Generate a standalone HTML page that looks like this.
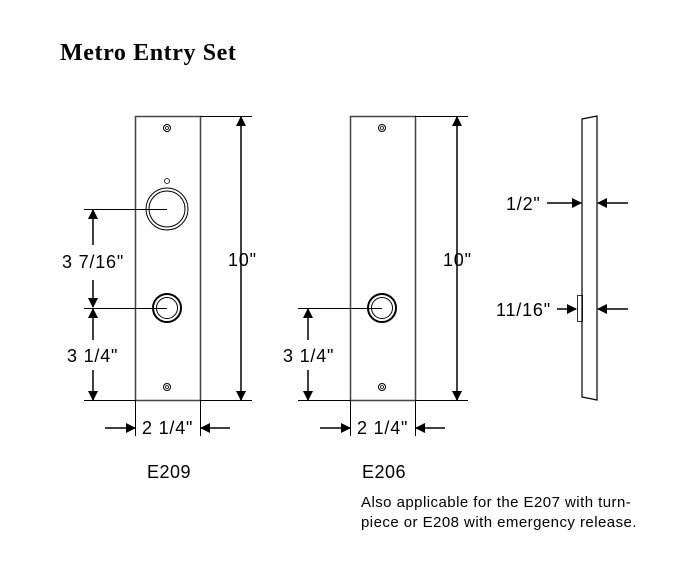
<!DOCTYPE html>
<html><head><style>
body{margin:0;width:687px;height:567px;background:#fff;overflow:hidden}
svg{display:block}
</style></head><body>
<svg width="687" height="567" viewBox="0 0 687 567" xmlns="http://www.w3.org/2000/svg">
<defs>
<marker id="a" markerWidth="10" markerHeight="10" refX="9" refY="5" orient="auto" markerUnits="userSpaceOnUse"><path d="M0,0 L10,5 L0,10 z" fill="#000"/></marker>
</defs>
<text x="60" y="60" font-family="Liberation Serif, serif" font-size="24" font-weight="bold" letter-spacing="0.6" fill="#000">Metro Entry Set</text>
<g fill="none" stroke="#000">
<!-- E209 -->
<rect x="135.5" y="116.5" width="65" height="284" stroke-width="1.5" stroke="#444"/>
<circle cx="167" cy="128" r="3.5" stroke-width="1"/><circle cx="167" cy="128" r="1.5" stroke-width="0.8"/>
<circle cx="167" cy="387" r="3.5" stroke-width="1"/><circle cx="167" cy="387" r="1.5" stroke-width="0.8"/>
<circle cx="167" cy="181" r="2.5" stroke-width="0.8"/>
<circle cx="167" cy="209" r="21" stroke-width="1"/><circle cx="167" cy="209" r="18" stroke-width="1"/>
<circle cx="167" cy="308" r="14" stroke-width="2"/><circle cx="167" cy="308" r="10.5" stroke-width="1"/>
<g stroke-width="1">
<line x1="200" y1="116.5" x2="252" y2="116.5"/><line x1="200" y1="400.5" x2="252" y2="400.5"/>
<line x1="84" y1="209.5" x2="167" y2="209.5"/><line x1="84" y1="308.5" x2="167" y2="308.5"/>
<line x1="84" y1="400.5" x2="135" y2="400.5"/>
<line x1="135.5" y1="400" x2="135.5" y2="436"/><line x1="200.5" y1="400" x2="200.5" y2="436"/>
</g>
<g stroke-width="1.5" marker-end="url(#a)">
<line x1="241" y1="258" x2="241" y2="117"/><line x1="241" y1="258" x2="241" y2="400"/>
<line x1="93" y1="245" x2="93" y2="210"/><line x1="93" y1="280" x2="93" y2="307"/>
<line x1="93" y1="340" x2="93" y2="309"/><line x1="93" y1="370" x2="93" y2="400"/>
<line x1="105" y1="428" x2="135" y2="428"/><line x1="230" y1="428" x2="201" y2="428"/>
</g>
<!-- E206 -->
<rect x="350.5" y="116.5" width="65" height="284" stroke-width="1.5" stroke="#444"/>
<circle cx="382" cy="128" r="3.5" stroke-width="1"/><circle cx="382" cy="128" r="1.5" stroke-width="0.8"/>
<circle cx="382" cy="387" r="3.5" stroke-width="1"/><circle cx="382" cy="387" r="1.5" stroke-width="0.8"/>
<circle cx="382" cy="308" r="14" stroke-width="2"/><circle cx="382" cy="308" r="10.5" stroke-width="1"/>
<g stroke-width="1">
<line x1="415" y1="116.5" x2="468" y2="116.5"/><line x1="415" y1="400.5" x2="468" y2="400.5"/>
<line x1="298" y1="308.5" x2="382" y2="308.5"/><line x1="298" y1="400.5" x2="350" y2="400.5"/>
<line x1="350.5" y1="400" x2="350.5" y2="436"/><line x1="415.5" y1="400" x2="415.5" y2="436"/>
</g>
<g stroke-width="1.5" marker-end="url(#a)">
<line x1="457" y1="258" x2="457" y2="117"/><line x1="457" y1="258" x2="457" y2="400"/>
<line x1="308" y1="340" x2="308" y2="309"/><line x1="308" y1="370" x2="308" y2="400"/>
<line x1="320" y1="428" x2="350" y2="428"/><line x1="445" y1="428" x2="416" y2="428"/>
</g>
<!-- side -->
<polygon points="582,119 597,116 597,400 582,397" stroke-width="1.2"/>
<rect x="577.5" y="295.5" width="5" height="26" stroke-width="0.8"/>
<g stroke-width="1.5" marker-end="url(#a)">
<line x1="547" y1="203" x2="581" y2="203"/><line x1="628" y1="203" x2="598" y2="203"/>
<line x1="557" y1="309" x2="576" y2="309"/><line x1="628" y1="309" x2="598" y2="309"/>
</g>
</g>
<g font-family="Liberation Sans, sans-serif" font-size="18" letter-spacing="0.8" fill="#000">
<text x="62" y="268">3 7/16"</text>
<text x="67" y="362">3 1/4"</text>
<text x="228" y="266">10"</text>
<text x="142" y="434">2 1/4"</text>
<text x="443" y="266">10"</text>
<text x="283" y="362">3 1/4"</text>
<text x="357" y="434">2 1/4"</text>
<text x="506" y="210">1/2"</text>
<text x="496" y="316">11/16"</text>
<text x="147" y="478" letter-spacing="0.5">E209</text>
<text x="362" y="478" letter-spacing="0.5">E206</text>
</g>
<g font-family="Liberation Sans, sans-serif" font-size="15" letter-spacing="0.45" fill="#000">
<text x="361" y="507">Also applicable for the E207 with turn-</text>
<text x="361" y="527">piece or E208 with emergency release.</text>
</g>
</svg>
</body></html>
